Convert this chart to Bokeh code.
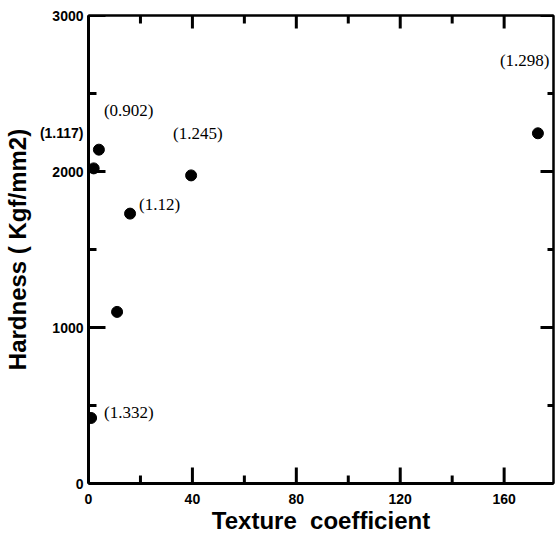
import math
from bokeh.plotting import figure
from bokeh.models import Range1d, FixedTicker, LinearAxis, Label, CustomJSTickFormatter
from bokeh.embed import file_html
from bokeh.resources import INLINE

# Data
texture_coef = [1, 2, 4, 11, 16, 39.5, 173]
hardness = [420, 2020, 2140, 1100, 1730, 1975, 2245]
labels = ["(1.332)", "(1.117)", "(0.902)", "", "(1.12)", "(1.245)", "(1.298)"]
x_ticks = [0, 40, 80, 120, 160]
x_minor = [20, 60, 100, 140]
y_ticks = [0, 1000, 2000, 3000]
y_minor = [500, 1500, 2500]
x_max = 179
y_max = 3000

# label styling (pixel offsets)
lab_dx = [13, -53, 5, 0, 9, -18, -38]
lab_dy = [5, 35, 39, 0, 9, 42, 73]

W, H = 556, 548
BL, BR, BT, BB = 88, 3, 15, 65
fw = W - BL - BR
fh = H - BT - BB
px_x = x_max / fw
px_y = y_max / fh

# the label left of the y axis is shown through the left axis' own labels
out_idx = 1
out_y = hardness[out_idx] + lab_dy[out_idx] * px_y
left_ticks = y_ticks + [out_y]

p = figure(width=W, height=H, output_backend="svg", toolbar_location=None,
           x_range=Range1d(0, x_max), y_range=Range1d(0, y_max),
           min_border_left=BL, min_border_right=BR, min_border_top=BT,
           min_border_bottom=BB)
p.grid.visible = False
p.outline_line_color = "black"
p.outline_line_width = 2
p.background_fill_color = None
p.border_fill_color = None

def style_axis(ax, ticks, minor, lw):
    ax.ticker = FixedTicker(ticks=ticks, minor_ticks=minor)
    ax.axis_line_width = lw
    ax.axis_line_color = "black"
    ax.major_tick_in = 0
    ax.major_tick_out = 0
    ax.minor_tick_in = 0
    ax.minor_tick_out = 0

xa = p.xaxis[0]
ya = p.yaxis[0]
style_axis(xa, x_ticks, x_minor, 3)
style_axis(ya, left_ticks, y_minor, 3)
ya.major_label_overrides = {out_y: labels[out_idx]}
for ax in (xa, ya):
    ax.major_label_text_font = "Liberation Sans"
    ax.major_label_text_font_style = "bold"
    ax.major_label_text_font_size = "14px"
    ax.major_label_text_color = "black"
    ax.axis_label_text_font = "Liberation Sans"
    ax.axis_label_text_font_style = "bold"
    ax.axis_label_text_font_size = "24px"
    ax.axis_label_text_color = "black"
xa.axis_label = "Texture\u00a0\u00a0coefficient"
ya.axis_label = "Hardness ( Kgf/mm2)"
xa.major_label_standoff = 10
ya.major_label_standoff = 5
xa.axis_label_standoff = 0
ya.axis_label_standoff = 6

top = LinearAxis(formatter=CustomJSTickFormatter(code="return ''"))
style_axis(top, x_ticks, x_minor, 2)
top.major_label_standoff = 0
right = LinearAxis(formatter=CustomJSTickFormatter(code="return ''"))
style_axis(right, y_ticks, y_minor, 2)
right.major_label_standoff = 0
p.add_layout(top, "above")
p.add_layout(right, "right")

# inward tick marks as dash markers centred half a tick length inside the frame
def vticks(xs, y0, ln):
    yc = y0 + ln / 2 * px_y
    p.scatter(xs, [yc] * len(xs), marker="dash", size=abs(ln), angle=math.pi / 2,
              line_color="black", line_width=3)

def hticks(ys, x0, ln):
    xc = x0 + ln / 2 * px_x
    p.scatter([xc] * len(ys), ys, marker="dash", size=abs(ln),
              line_color="black", line_width=3)

vticks(x_ticks, 0, 16)
vticks(x_minor, 0, 8)
vticks(x_ticks, y_max, -13)
vticks(x_minor, y_max, -8)
hticks(y_ticks, 0, 17)
hticks(y_minor, 0, 8)
hticks(y_ticks, x_max, -13)
hticks(y_minor, x_max, -6)

p.scatter(texture_coef, hardness, size=11, color="black")
for i, (xv, yv, t, dx, dy) in enumerate(zip(texture_coef, hardness, labels, lab_dx, lab_dy)):
    if not t or i == out_idx:
        continue
    p.add_layout(Label(x=xv, y=yv, text=t, x_offset=dx, y_offset=dy,
                       text_align="left", text_baseline="middle",
                       text_font="Liberation Serif", text_font_size="17px",
                       text_color="black"))

open("out.html", "w").write(file_html(p, INLINE))
